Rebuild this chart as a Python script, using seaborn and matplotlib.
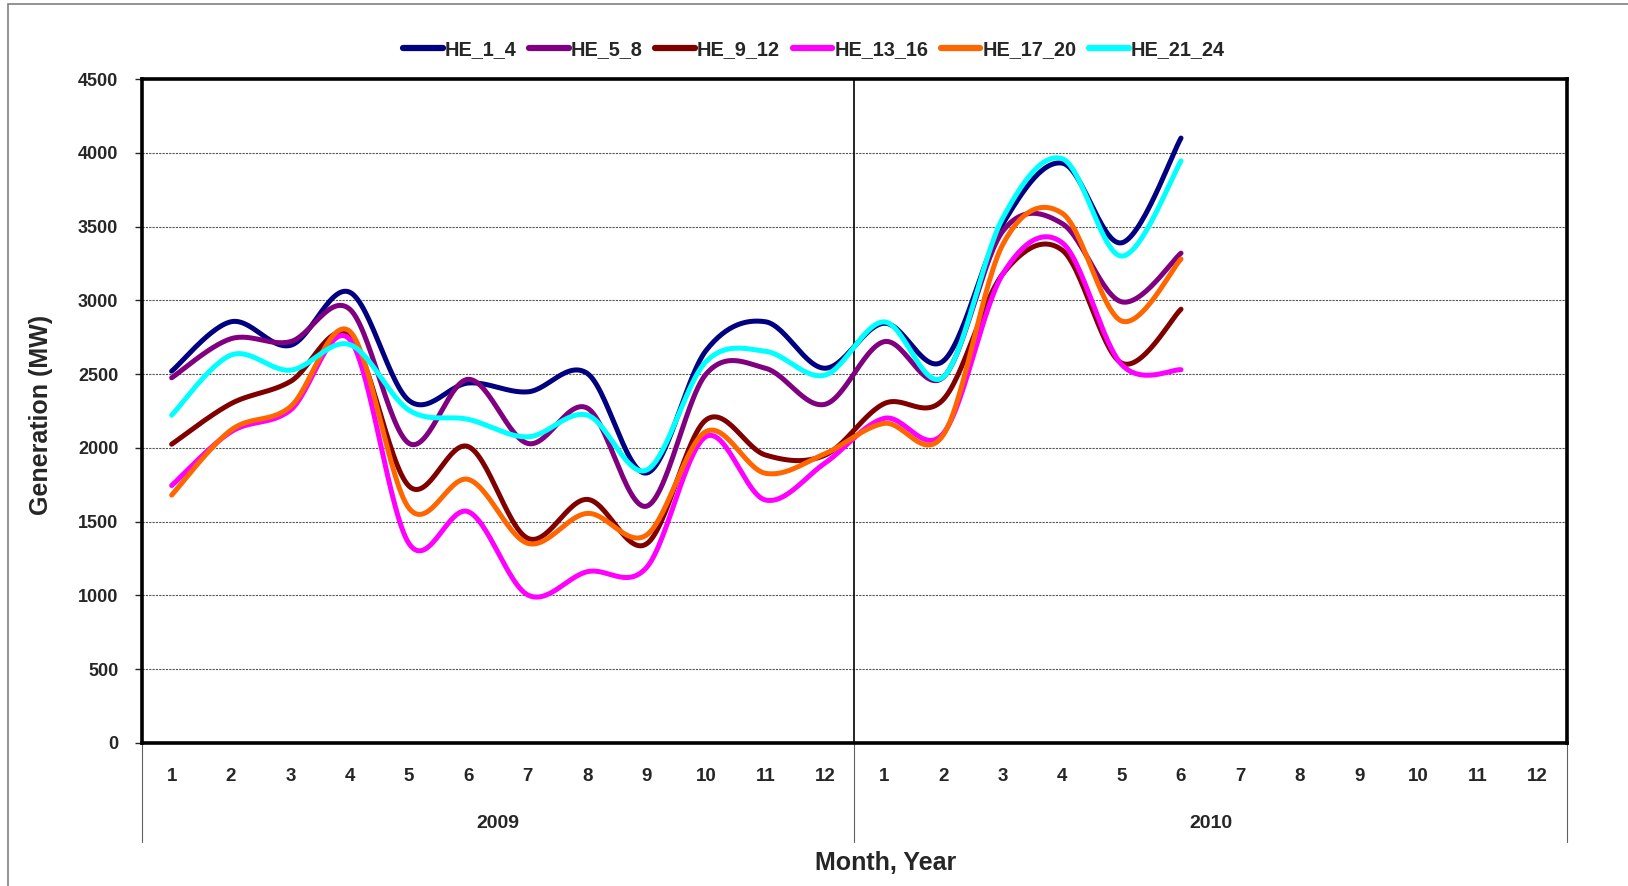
import numpy as np
import pandas as pd
import matplotlib
matplotlib.use("Agg")
import matplotlib.pyplot as plt
from matplotlib.lines import Line2D
from matplotlib.patches import Rectangle
import seaborn as sns

# monthly average generation (MW) by hour-ending block, Jan 2009 - Jun 2010
series_names = ["HE_1_4", "HE_5_8", "HE_9_12", "HE_13_16", "HE_17_20", "HE_21_24"]
series_colors = ["#000080", "#800080", "#800000", "#FF00FF", "#FF6600", "#00FFFF"]

he_1_4 = [2520, 2855, 2695, 3055, 2320, 2440, 2380, 2505, 1830, 2660, 2855, 2540,
          2845, 2590, 3520, 3930, 3390, 4100]
he_5_8 = [2475, 2740, 2720, 2940, 2030, 2465, 2030, 2270, 1605, 2500, 2540, 2295,
          2720, 2480, 3470, 3520, 2990, 3320]
he_9_12 = [2025, 2300, 2450, 2760, 1740, 2008, 1387, 1651, 1350, 2190, 1952, 1950,
           2300, 2330, 3180, 3340, 2575, 2940]
he_13_16 = [1745, 2109, 2256, 2735, 1350, 1567, 1003, 1161, 1190, 2077, 1647, 1896,
            2200, 2100, 3180, 3390, 2565, 2530]
he_17_20 = [1680, 2121, 2279, 2790, 1590, 1786, 1353, 1556, 1410, 2111, 1828, 1960,
            2166, 2090, 3380, 3590, 2860, 3280]
he_21_24 = [2222, 2629, 2527, 2700, 2255, 2193, 2075, 2222, 1850, 2585, 2655, 2493,
            2854, 2482, 3560, 3960, 3300, 3945]

month_labels = [str(m) for m in range(1, 13)] * 2
years = ["2009", "2010"]


def smooth(y, n=30):
    # Excel-style smoothed line: cubic Bezier with Catmull-Rom tangents (1/6)
    x = np.arange(len(y), dtype=float)
    y = np.asarray(y, dtype=float)
    px = np.concatenate([[x[0]], x, [x[-1]]])
    py = np.concatenate([[y[0]], y, [y[-1]]])
    xs, ys = [], []
    t = np.linspace(0, 1, n, endpoint=False)
    for i in range(1, len(px) - 2):
        p0 = np.array([px[i], py[i]])
        p3 = np.array([px[i + 1], py[i + 1]])
        c1 = p0 + (p3 - np.array([px[i - 1], py[i - 1]])) / 6
        c2 = p3 - (np.array([px[i + 2], py[i + 2]]) - p0) / 6
        b = ((1 - t) ** 3)[:, None] * p0 + (3 * (1 - t) ** 2 * t)[:, None] * c1 \
            + (3 * (1 - t) * t ** 2)[:, None] * c2 + (t ** 3)[:, None] * p3
        xs.append(b[:, 0])
        ys.append(b[:, 1])
    xs.append([x[-1]])
    ys.append([y[-1]])
    return np.concatenate(xs), np.concatenate(ys)


frames = []
for name, vals in zip(series_names, [he_1_4, he_5_8, he_9_12, he_13_16, he_17_20, he_21_24]):
    sx, sy = smooth(vals)
    frames.append(pd.DataFrame({"x": sx, "y": sy, "series": name}))
df = pd.concat(frames, ignore_index=True)

sns.set_style("white")
plt.rcParams["font.family"] = ["Liberation Sans", "DejaVu Sans"]
plt.rcParams["font.weight"] = "bold"

fig = plt.figure(figsize=(16.28, 8.86), dpi=100)
ax = fig.add_axes([0.0872, 0.1614, 0.8753, 0.7494])

sns.lineplot(data=df, x="x", y="y", hue="series", hue_order=series_names,
             palette=series_colors, sort=False, estimator=None, linewidth=3.6,
             solid_capstyle="round", ax=ax, legend=False)

ax.set_xlim(-0.5, 23.5)
ax.set_ylim(0, 4500)
ax.set_yticks(range(0, 4501, 500))
ax.yaxis.grid(True, color="#555555", linestyle=(0, (2, 1)), linewidth=0.8)
ax.xaxis.grid(False)
ax.axvline(11.5, color="black", linewidth=1.2, zorder=1)

for sp in ax.spines.values():
    sp.set_linewidth(2.6)
    sp.set_color("black")

ax.tick_params(axis="y", direction="out", length=5, width=1, pad=12, labelsize=13, left=True)
ax.set_xticks(range(24))
ax.set_xticklabels(month_labels, fontsize=13.5, fontweight="bold")
ax.tick_params(axis="x", which="major", length=0, pad=18)
ax.set_xticks(np.arange(-0.5, 24, 1), minor=True)
ax.tick_params(axis="x", which="minor", direction="out", length=36, width=0.8, color="#606060")
for lbl in ax.get_yticklabels():
    lbl.set_fontweight("bold")

# year separators and labels
trans = ax.get_xaxis_transform()
for xpos in [-0.5, 11.5, 23.5]:
    ax.add_line(Line2D([xpos, xpos], [0, -0.149], transform=trans, color="#606060",
                       linewidth=0.8, clip_on=False))
for xpos, yr in zip([5.5, 17.5], years):
    ax.text(xpos, -0.1205, yr, transform=trans, ha="center", va="center",
            fontsize=14, fontweight="bold")

ax.set_xlabel("Month, Year", fontsize=18, fontweight="bold")
ax.xaxis.set_label_coords(0.522, -0.162)
ax.set_ylabel("Generation (MW)", fontsize=18, fontweight="bold")
ax.yaxis.set_label_coords(-0.0625, 0.494)

handles = [Line2D([], [], color=c, linewidth=4.5, solid_capstyle="round") for c in series_colors]
fig.legend(handles, series_names, loc="center", bbox_to_anchor=(0.5, 0.944), ncol=6,
           frameon=False, handlelength=2.0, handletextpad=0.1, columnspacing=0.63,
           prop={"size": 14.3, "weight": "bold"})

fig.patches.append(Rectangle((0.0049, -0.05), 1.2, 1.0455, transform=fig.transFigure,
                             fill=False, edgecolor="#808080", linewidth=1.2))

fig.savefig("out.png", dpi=100)
